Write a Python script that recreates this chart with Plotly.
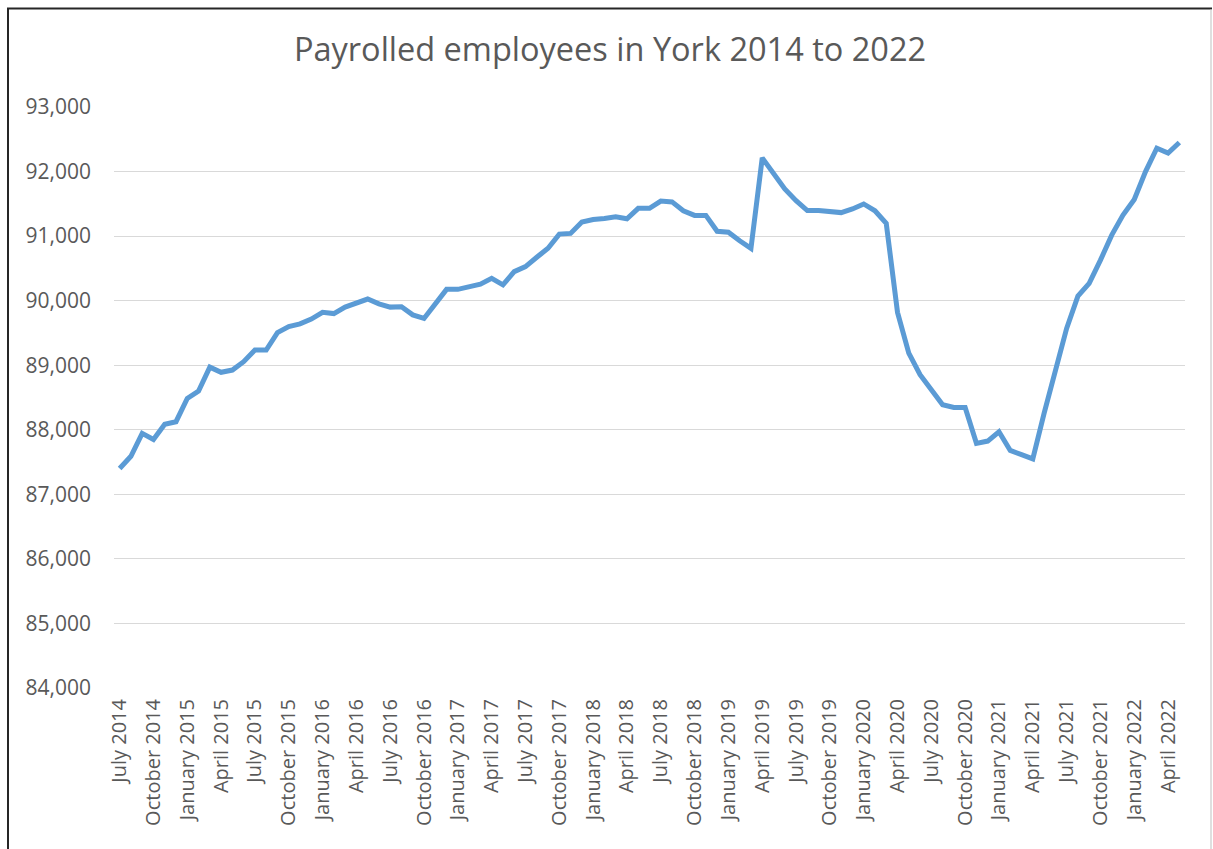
import plotly.graph_objects as go

# ---------------- data ----------------
month_names = ["January", "February", "March", "April", "May", "June",
               "July", "August", "September", "October", "November", "December"]
months = []
_y, _m = 2014, 6
while not (_y == 2022 and _m == 5):
    months.append(f"{month_names[_m]} {_y}")
    _m += 1
    if _m == 12:
        _m, _y = 0, _y + 1

employees = [
    87400, 87590, 87945, 87850, 88085, 88125, 88485, 88600, 88970, 88890,
    88925, 89055, 89235, 89235, 89505, 89600, 89640, 89715, 89820, 89800,
    89900, 89960, 90025, 89950, 89900, 89905, 89780, 89725, 89960, 90175,
    90175, 90215, 90255, 90345, 90245, 90450, 90527, 90672, 90811, 91031,
    91042, 91217, 91258, 91274, 91300, 91268, 91430, 91430, 91543, 91530,
    91393, 91321, 91321, 91075, 91060, 90928, 90810, 92212, 91980, 91732,
    91550, 91395, 91395, 91380, 91364, 91420, 91498, 91393, 91197, 89818,
    89188, 88853, 88620, 88388, 88346, 88346, 87790, 87825, 87970, 87680,
    87615, 87550, 88254, 88925, 89570, 90070, 90267, 90628, 91015, 91325,
    91568, 92000, 92362, 92285, 92450,
]

tick_labels = [months[i] for i in range(0, len(months), 3)]
y_ticks = [84000, 85000, 86000, 87000, 88000, 89000, 90000, 91000, 92000, 93000]

# ---------------- figure ----------------
FONT = "Open Sans"
GREY = "#595959"

fig = go.Figure()
fig.add_trace(go.Scatter(
    x=months, y=employees, mode="lines",
    line=dict(color="#5B9BD5", width=5),
    hoverinfo="x+y",
))

L, R, T, B = 114, 28, 107, 161
W, H = 1213, 849
pw, ph = W - L - R, H - T - B

def px_x(px):
    return (px - L) / pw

def px_y(py):
    return (H - B - py) / ph

fig.update_layout(
    width=W, height=H,
    margin=dict(l=L, r=R, t=T, b=B, pad=0),
    paper_bgcolor="white", plot_bgcolor="white",
    showlegend=False,
    title=dict(
        text="Payrolled employees in York 2014 to 2022",
        x=610 / W, xref="container", xanchor="center",
        y=1 - 50 / H, yref="container", yanchor="middle",
        font=dict(family=FONT, size=32.5, color=GREY),
    ),
    xaxis=dict(
        type="category",
        range=[-0.5, len(months) - 0.5],
        tickmode="array", tickvals=tick_labels, ticktext=tick_labels,
        tickangle=-90,
        tickfont=dict(family=FONT, size=20, color=GREY),
        showgrid=False, zeroline=False,
        showline=False, ticks="",
        ticklabelstandoff=6,
    ),
    yaxis=dict(
        range=[84000, 93000],
        tickmode="array", tickvals=y_ticks,
        ticktext=[f"{v:,}" for v in y_ticks],
        tickfont=dict(family=FONT, size=21, color=GREY),
        showgrid=True, gridcolor="#D9D9D9", gridwidth=1.3,
        zeroline=False, showline=False, ticks="",
        ticklabelstandoff=22,
    ),
    shapes=[
        dict(type="line", xref="paper", yref="paper",
             x0=px_x(8), x1=px_x(8), y0=px_y(8), y1=px_y(860),
             line=dict(color="#262626", width=2)),
        dict(type="line", xref="paper", yref="paper",
             x0=px_x(7), x1=px_x(1212), y0=px_y(8.5), y1=px_y(8.5),
             line=dict(color="#262626", width=2)),
        dict(type="line", xref="paper", yref="paper",
             x0=px_x(1211), x1=px_x(1211), y0=px_y(9), y1=px_y(860),
             line=dict(color="#BFBFBF", width=1)),
    ],
)

fig.write_html("out.html")
